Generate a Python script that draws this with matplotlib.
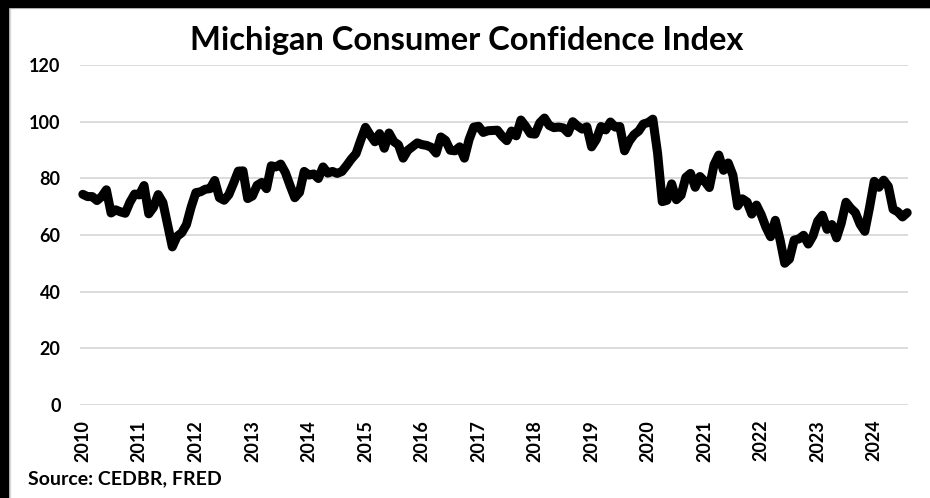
import numpy as np
import matplotlib
matplotlib.use("Agg")
import matplotlib.pyplot as plt
from matplotlib.patches import Rectangle

plt.rcParams['font.family'] = ['Lato', 'DejaVu Sans']

# monthly index, Jan 2010 - Aug 2024
sentiment = [
    74.4, 73.6, 73.6, 72.2, 73.6, 76.0, 67.8, 68.9, 68.2, 67.7, 71.6, 74.5,  # 2010
    74.2, 77.5, 67.5, 69.8, 74.3, 71.5, 63.7, 55.8, 59.5, 60.8, 63.7, 69.9,  # 2011
    75.0, 75.3, 76.2, 76.4, 79.3, 73.2, 72.3, 74.3, 78.3, 82.6, 82.7, 72.9,  # 2012
    73.8, 77.6, 78.6, 76.4, 84.5, 84.1, 85.1, 82.1, 77.5, 73.2, 75.1, 82.5,  # 2013
    81.2, 81.6, 80.0, 84.1, 81.9, 82.5, 81.8, 82.5, 84.6, 86.9, 88.8, 93.6,  # 2014
    98.1, 95.4, 93.0, 95.9, 90.7, 96.1, 93.1, 91.9, 87.2, 90.0, 91.3, 92.6,  # 2015
    92.0, 91.7, 91.0, 89.0, 94.7, 93.5, 90.0, 89.8, 91.2, 87.2, 93.8, 98.2,  # 2016
    98.5, 96.3, 96.9, 97.0, 97.1, 95.0, 93.4, 96.8, 95.1, 100.7, 98.5, 95.9,  # 2017
    95.7, 99.7, 101.4, 98.8, 98.0, 98.2, 97.9, 96.2, 100.1, 98.6, 97.5, 98.3,  # 2018
    91.2, 93.8, 98.4, 97.2, 100.0, 98.2, 98.4, 89.8, 93.2, 95.5, 96.8, 99.3,  # 2019
    99.8, 101.0, 89.1, 71.8, 72.3, 78.1, 72.5, 74.1, 80.4, 81.8, 76.9, 80.7,  # 2020
    79.0, 76.8, 84.9, 88.3, 82.9, 85.5, 81.2, 70.3, 72.8, 71.7, 67.4, 70.6,  # 2021
    67.2, 62.8, 59.4, 65.2, 58.4, 50.0, 51.5, 58.2, 58.6, 59.9, 56.8, 59.7,  # 2022
    64.9, 67.0, 62.0, 63.7, 59.0, 64.2, 71.6, 69.5, 67.9, 63.8, 61.3, 69.7,  # 2023
    79.0, 76.9, 79.4, 77.2, 69.1, 68.2, 66.4, 67.9,                          # 2024
]
years = [str(y) for y in range(2010, 2025)]
yticks = [0, 20, 40, 60, 80, 100, 120]

fig = plt.figure(figsize=(9.3, 4.98), dpi=100)
ax = fig.add_axes([0.086, 0.1877, 0.890, 0.6808])

x = np.arange(len(sentiment))
ax.plot(x, sentiment, color='black', lw=6.5, solid_joinstyle='round',
        solid_capstyle='round', clip_on=False, zorder=3)

ax.set_ylim(0, 120)
ax.set_xlim(-0.6, 175.1)
ax.set_yticks(yticks)
ax.set_xticks(np.arange(len(years)) * 12)
ax.set_xticklabels(years, rotation=90)
ax.grid(axis='y', color='#d9d9d9', lw=1.3)
ax.set_axisbelow(True)
for s in ax.spines.values():
    s.set_visible(False)
ax.tick_params(length=0, labelsize=13)
ax.tick_params(axis='y', pad=14)
ax.tick_params(axis='x', pad=11)
for lab in ax.get_xticklabels() + ax.get_yticklabels():
    lab.set_fontweight('bold')

fig.text(0.502, 0.918, 'Michigan Consumer Confidence Index', ha='center',
         va='center', fontsize=23.5, fontweight='bold')
fig.text(0.030, 0.022, 'Source: CEDBR, FRED', ha='left', va='bottom',
         fontsize=14, fontweight='bold')

# black frame on top and left, as in the original export
fig.patches.append(Rectangle((0, 0), 8 / 930, 1, transform=fig.transFigure,
                             color='black', zorder=10))
fig.patches.append(Rectangle((0, 1 - 7 / 498), 1, 7 / 498,
                             transform=fig.transFigure, color='black', zorder=10))
fig.patches.append(Rectangle((8 / 930, 0), 1.5 / 930, 1 - 7 / 498,
                             transform=fig.transFigure, color='#d9d9d9', zorder=9))
fig.patches.append(Rectangle((8 / 930, 1 - 8.5 / 498), 1, 1.5 / 498,
                             transform=fig.transFigure, color='#d9d9d9', zorder=9))

fig.savefig('out.png', dpi=100)
